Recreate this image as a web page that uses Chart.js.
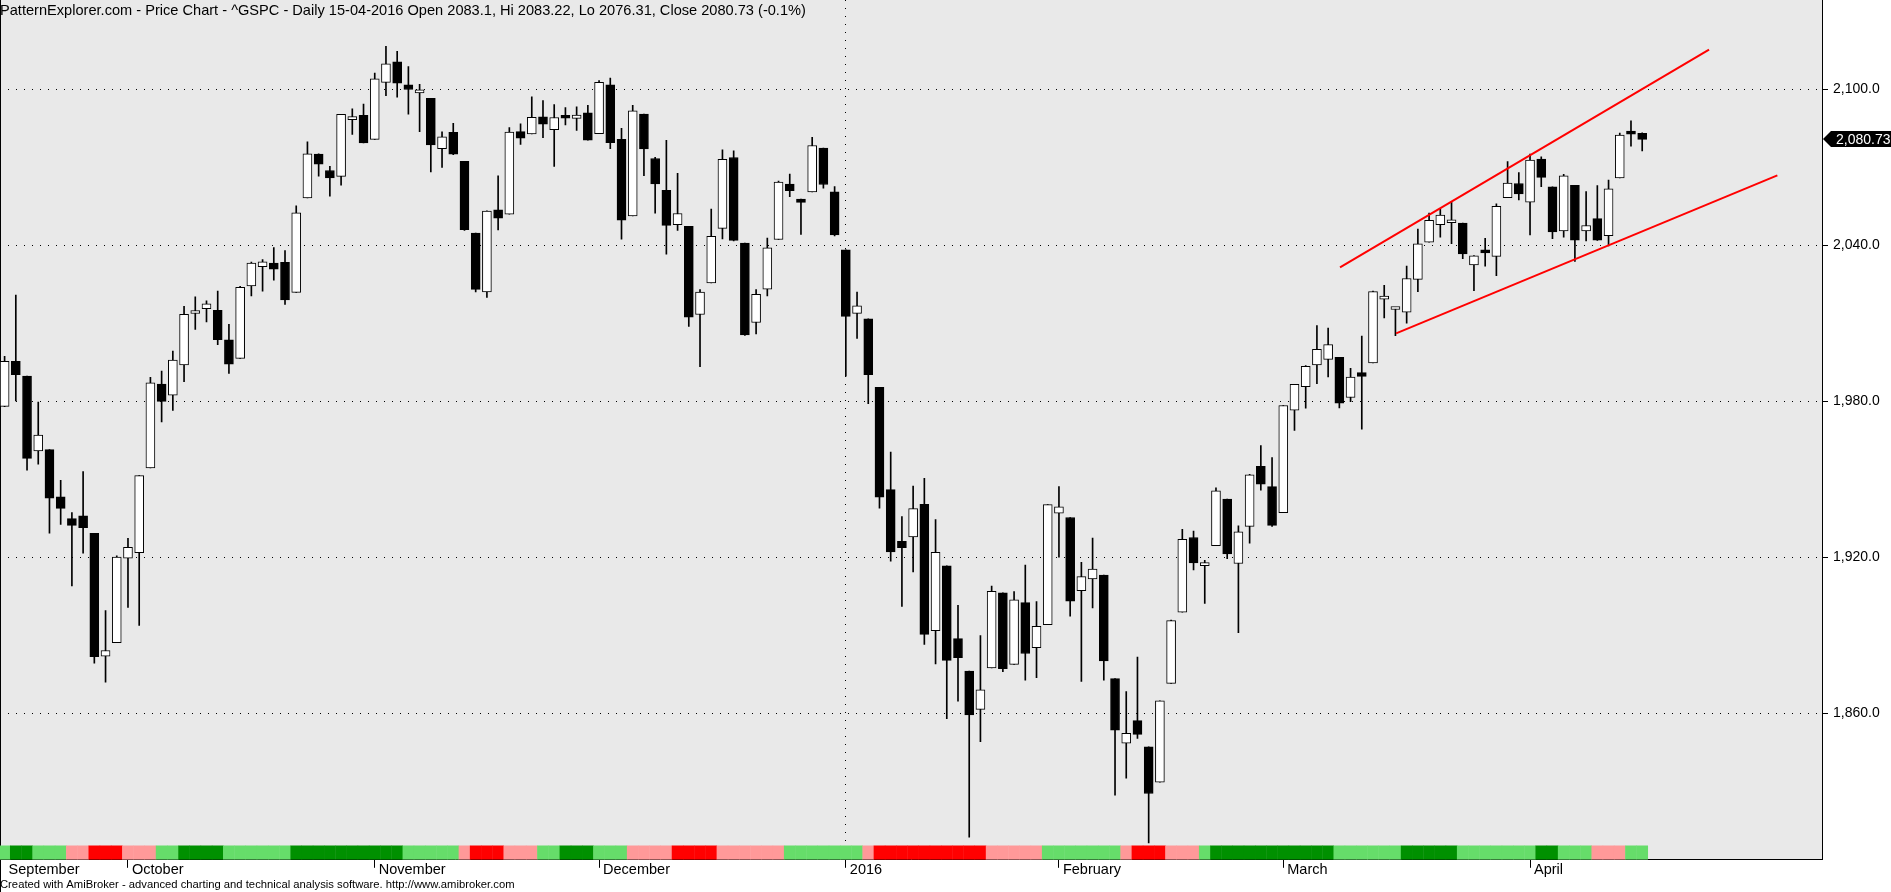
<!DOCTYPE html>
<html>
<head>
<meta charset="utf-8">
<title>^GSPC Daily Price Chart</title>
<script src="https://cdn.jsdelivr.net/npm/chart.js@4.4.0/dist/chart.umd.min.js"></script>
<style>
  html, body { margin: 0; padding: 0; background: #ffffff; }
  #wrap { width: 1891px; height: 892px; position: relative; }
</style>
</head>
<body>
<div id="wrap"><canvas id="priceChart"></canvas></div>
<script>
const dates = [
  '2015-09-16','2015-09-17','2015-09-18','2015-09-21','2015-09-22','2015-09-23','2015-09-24','2015-09-25','2015-09-28','2015-09-29','2015-09-30',
  '2015-10-01','2015-10-02','2015-10-05','2015-10-06','2015-10-07','2015-10-08','2015-10-09','2015-10-12','2015-10-13','2015-10-14','2015-10-15',
  '2015-10-16','2015-10-19','2015-10-20','2015-10-21','2015-10-22','2015-10-23','2015-10-26','2015-10-27','2015-10-28','2015-10-29','2015-10-30',
  '2015-11-02','2015-11-03','2015-11-04','2015-11-05','2015-11-06','2015-11-09','2015-11-10','2015-11-11','2015-11-12','2015-11-13',
  '2015-11-16','2015-11-17','2015-11-18','2015-11-19','2015-11-20','2015-11-23','2015-11-24','2015-11-25','2015-11-27','2015-11-30',
  '2015-12-01','2015-12-02','2015-12-03','2015-12-04','2015-12-07','2015-12-08','2015-12-09','2015-12-10','2015-12-11','2015-12-14','2015-12-15',
  '2015-12-16','2015-12-17','2015-12-18','2015-12-21','2015-12-22','2015-12-23','2015-12-24','2015-12-28','2015-12-29','2015-12-30','2015-12-31',
  '2016-01-04','2016-01-05','2016-01-06','2016-01-07','2016-01-08','2016-01-11','2016-01-12','2016-01-13','2016-01-14','2016-01-15',
  '2016-01-19','2016-01-20','2016-01-21','2016-01-22','2016-01-25','2016-01-26','2016-01-27','2016-01-28','2016-01-29',
  '2016-02-01','2016-02-02','2016-02-03','2016-02-04','2016-02-05','2016-02-08','2016-02-09','2016-02-10','2016-02-11','2016-02-12',
  '2016-02-16','2016-02-17','2016-02-18','2016-02-19','2016-02-22','2016-02-23','2016-02-24','2016-02-25','2016-02-26','2016-02-29',
  '2016-03-01','2016-03-02','2016-03-03','2016-03-04','2016-03-07','2016-03-08','2016-03-09','2016-03-10','2016-03-11','2016-03-14','2016-03-15',
  '2016-03-16','2016-03-17','2016-03-18','2016-03-21','2016-03-22','2016-03-23','2016-03-24','2016-03-28','2016-03-29','2016-03-30','2016-03-31',
  '2016-04-01','2016-04-04','2016-04-05','2016-04-06','2016-04-07','2016-04-08','2016-04-11','2016-04-12','2016-04-13','2016-04-14','2016-04-15'
];

const opens = [
  1978.02,1995.33,1989.66,1960.84,1961.39,1943.24,1934.81,1935.93,1929.18,1881.90,1887.14,
  1919.65,1921.77,1954.33,1986.63,1982.34,1994.01,2013.73,2015.65,2015.00,2003.66,1996.47,
  2024.37,2031.73,2033.13,2033.47,2021.88,2058.19,2075.08,2068.75,2066.48,2088.35,2090.00,
  2080.76,2102.63,2110.60,2101.68,2098.60,2096.56,2077.19,2083.41,2072.29,2044.64,
  2022.08,2053.67,2051.99,2083.70,2082.82,2089.41,2084.42,2089.30,2088.82,2090.95,
  2082.93,2101.71,2080.71,2051.24,2090.42,2073.39,2061.17,2047.93,2047.27,2013.37,2025.55,
  2046.50,2073.76,2040.81,2010.27,2023.15,2042.20,2063.52,2057.77,2060.54,2077.34,2060.59,
  2038.20,2013.78,2011.71,1985.32,1945.97,1926.12,1927.83,1940.34,1891.68,1916.68,
  1888.66,1876.18,1861.46,1877.40,1906.28,1878.79,1902.52,1885.22,1894.00,
  1936.94,1935.26,1907.07,1911.67,1913.07,1873.25,1848.46,1857.10,1847.00,1833.40,
  1871.44,1898.80,1927.57,1916.74,1924.44,1942.38,1917.56,1931.87,1954.95,1947.13,
  1937.09,1976.60,1985.60,1994.01,1996.11,1996.88,1981.44,1990.97,1994.71,2019.27,2015.27,
  2014.24,2026.90,2041.16,2047.88,2048.64,2048.55,2032.48,2037.89,2035.75,2058.27,2063.77,
  2056.62,2073.19,2062.50,2045.56,2063.01,2045.54,2050.23,2043.72,2065.92,2082.89,2083.10
];

const highs = [
  1997.26,2020.86,1989.66,1979.64,1961.39,1949.52,1937.17,1952.89,1929.18,1899.48,1920.53,
  1927.21,1951.36,1989.17,1991.62,1999.31,2016.50,2020.13,2018.66,2022.34,2009.56,2024.15,
  2033.54,2034.45,2039.12,2037.97,2055.20,2079.74,2075.14,2070.37,2090.35,2092.52,2094.32,
  2106.20,2116.48,2114.59,2108.78,2101.91,2096.56,2083.67,2086.94,2072.29,2044.64,
  2053.22,2066.69,2085.31,2086.74,2097.06,2095.61,2094.12,2093.00,2093.29,2093.81,
  2103.37,2104.27,2085.00,2093.84,2090.42,2073.85,2080.33,2067.65,2047.27,2022.92,2053.87,
  2076.72,2076.37,2040.81,2022.90,2042.74,2064.73,2067.36,2057.77,2081.56,2077.34,2062.54,
  2038.20,2021.94,2011.71,1985.32,1960.40,1935.65,1947.38,1950.33,1934.47,1916.68,
  1901.44,1876.18,1889.85,1908.85,1906.28,1906.73,1916.99,1902.96,1940.24,
  1947.20,1935.26,1918.01,1927.35,1913.07,1873.25,1868.25,1881.60,1847.00,1864.78,
  1895.77,1930.68,1930.00,1918.78,1946.70,1942.38,1932.08,1951.83,1962.96,1958.27,
  1978.35,1986.51,1993.69,2009.13,2008.16,1996.88,1992.69,2005.08,2022.37,2024.57,2015.94,
  2032.02,2046.24,2052.36,2053.91,2056.60,2048.55,2036.04,2042.67,2055.91,2072.21,2067.92,
  2075.07,2074.02,2062.50,2067.33,2063.01,2060.63,2062.93,2065.05,2083.18,2087.84,2083.22
];

const lows = [
  1977.93,1980.09,1953.45,1955.80,1929.22,1932.57,1908.92,1921.50,1879.21,1871.91,1887.14,
  1900.70,1893.70,1954.33,1971.99,1976.44,1987.53,2007.61,2010.55,2001.78,1990.73,1996.47,
  2020.46,2022.31,2026.61,2017.22,2021.88,2058.19,2066.53,2058.84,2063.11,2082.63,2079.34,
  2080.76,2097.51,2096.98,2090.41,2083.74,2068.24,2069.91,2074.85,2045.66,2022.02,
  2019.94,2045.90,2051.99,2078.76,2082.82,2081.39,2070.29,2086.30,2084.13,2080.41,
  2082.93,2077.11,2042.35,2051.24,2066.78,2052.32,2036.53,2045.67,2008.80,1993.26,2025.55,
  2042.43,2041.66,2005.33,2005.93,2020.49,2042.20,2058.73,2044.20,2060.54,2061.97,2043.62,
  1989.68,2004.17,1979.05,1938.83,1918.46,1901.10,1914.35,1886.41,1878.93,1857.83,
  1864.60,1812.29,1848.98,1877.40,1875.97,1878.79,1872.70,1873.65,1894.00,
  1920.03,1897.29,1872.23,1900.52,1872.65,1828.46,1834.94,1850.32,1810.10,1833.40,
  1871.44,1898.80,1915.09,1902.17,1924.44,1919.44,1891.00,1925.41,1945.78,1931.81,
  1937.09,1968.80,1977.37,1986.77,1989.38,1977.43,1979.84,1969.25,1994.71,2012.05,2005.23,
  2010.04,2022.16,2041.16,2043.14,2040.57,2034.86,2022.49,2031.96,2028.31,2058.27,2057.46,
  2043.98,2062.57,2042.56,2043.09,2033.80,2041.69,2041.88,2039.74,2065.92,2078.13,2076.31
];

const closes = [
  1995.31,1990.20,1958.03,1966.97,1942.74,1938.76,1932.24,1931.34,1881.77,1884.09,1920.03,
  1923.82,1951.36,1987.05,1979.92,1995.83,2013.43,2014.89,2017.46,2003.69,1994.24,2023.86,
  2033.11,2033.66,2030.77,2018.94,2052.51,2075.15,2071.18,2065.89,2090.35,2089.41,2079.36,
  2104.05,2109.79,2102.31,2099.93,2099.20,2078.58,2081.72,2075.00,2045.97,2023.04,
  2053.19,2050.44,2083.58,2081.24,2089.17,2086.59,2089.14,2088.87,2090.11,2080.41,
  2102.63,2079.51,2049.62,2091.69,2077.07,2063.59,2047.62,2052.23,2012.37,2021.94,2043.41,
  2073.07,2041.89,2005.55,2021.15,2038.97,2064.29,2060.99,2056.50,2078.36,2063.36,2043.94,
  2012.66,2016.71,1990.26,1943.09,1922.03,1923.67,1938.68,1890.28,1921.84,1880.33,
  1881.33,1859.33,1868.99,1906.90,1877.08,1903.63,1882.95,1893.36,1940.24,
  1939.38,1903.03,1912.53,1915.45,1880.05,1853.44,1852.21,1851.86,1829.08,1864.78,
  1895.58,1926.82,1917.83,1917.78,1945.50,1921.27,1929.80,1951.70,1948.05,1932.23,
  1978.35,1986.45,1993.40,1999.99,2001.76,1979.26,1989.26,1989.57,2022.19,2019.64,2015.93,
  2027.22,2040.59,2049.58,2051.60,2049.80,2036.71,2035.94,2037.05,2055.01,2063.95,2059.74,
  2072.78,2066.13,2045.17,2066.66,2041.91,2047.60,2041.99,2061.72,2082.42,2082.78,2080.73
];

// trend strip under the candles: D = strong up, L = up, P = down, R = strong down
const trendState = (
  'LDDLLLPPRRR' +
  'PPPLLDDDDLLLLLLDDDDDDD' +
  'DDDLLLLLPRRRPPPLLDDD' +
  'LLLPPPPRRRRPPPPPPLLLLL' +
  'LLPRRRRRRRRRRPPPPPL' +
  'LLLLLLPRRRPPPLDDDDDD' +
  'DDDDDLLLLLLDDDDDLLLLLL' +
  'LDDLLLPPPLL'
).split('');

const monthLabels = ['September', 'October', 'November', 'December', '2016', 'February', 'March', 'April'];
const priceTicks = [1860, 1920, 1980, 2040, 2100];

// hand drawn channel, x in bar index units
const upperChannelX = [119.06, 151.96];
const upperChannelY = [2031.45, 2115.3];
const lowerChannelX = [124.06, 158.05];
const lowerChannelY = [2006.1, 2066.9];

const titleText = 'PatternExplorer.com - Price Chart - ^GSPC - Daily 15-04-2016 Open 2083.1, Hi 2083.22, Lo 2076.31, Close 2080.73 (-0.1%)';
const footerText = 'Created with AmiBroker - advanced charting and technical analysis software. http://www.amibroker.com';

const fontFamily = '"Liberation Sans", Arial, sans-serif';
const stripPalette = { D: '#009000', L: '#66dd6a', P: '#ff9999', R: '#ff0000' };

const monthTicks = dates.map((d, i) => i).filter(i => i === 0 || dates[i].slice(0, 7) !== dates[i - 1].slice(0, 7));
const yearTick = monthTicks[monthLabels.indexOf('2016')];
const bodyColors = closes.map((c, i) => c >= opens[i] ? '#ffffff' : '#000000');
const lastClose = closes[closes.length - 1];

const chartBackground = {
  id: 'chartBackground',
  beforeDraw(chart) {
    const { ctx, chartArea } = chart;
    ctx.save();
    ctx.fillStyle = '#e9e9e9';
    ctx.fillRect(0, 0, chartArea.right, chartArea.bottom);
    ctx.fillStyle = '#000000';
    ctx.fillRect(0, 0, 1, chart.height);
    ctx.restore();
  }
};

// black price tag on the right axis showing the last close
const lastCloseTag = {
  id: 'lastCloseTag',
  afterDraw(chart) {
    const { ctx, chartArea } = chart;
    const y = Math.round(chart.scales.y.getPixelForValue(lastClose));
    const x = chartArea.right + 1;
    ctx.save();
    ctx.fillStyle = '#000000';
    ctx.beginPath();
    ctx.moveTo(x, y);
    ctx.lineTo(x + 8, y - 8);
    ctx.lineTo(chart.width, y - 8);
    ctx.lineTo(chart.width, y + 8);
    ctx.lineTo(x + 8, y + 8);
    ctx.closePath();
    ctx.fill();
    ctx.fillStyle = '#ffffff';
    ctx.font = '14px ' + fontFamily;
    ctx.textBaseline = 'middle';
    ctx.fillText(lastClose.toLocaleString('en-US', { minimumFractionDigits: 2 }), x + 13, y + 1);
    ctx.restore();
  }
};

const ctx = document.getElementById('priceChart').getContext('2d');
new Chart(ctx, {
  type: 'bar',
  data: {
    datasets: [
      {
        type: 'line',
        label: 'Upper channel',
        data: upperChannelX.map((x, i) => ({ x: x, y: upperChannelY[i] })),
        borderColor: '#ff0000',
        borderWidth: 2,
        pointRadius: 0,
        tension: 0,
        order: 0
      },
      {
        type: 'line',
        label: 'Lower channel',
        data: lowerChannelX.map((x, i) => ({ x: x, y: lowerChannelY[i] })),
        borderColor: '#ff0000',
        borderWidth: 2,
        pointRadius: 0,
        tension: 0,
        order: 0
      },
      {
        label: 'Body',
        data: dates.map((d, i) => ({ x: i, y: [opens[i], closes[i]] })),
        backgroundColor: bodyColors,
        borderColor: '#000000',
        borderWidth: 1,
        borderSkipped: false,
        barThickness: 9,
        minBarLength: 3,
        grouped: false,
        order: 1
      },
      {
        label: 'Wick',
        data: dates.map((d, i) => ({ x: i, y: [lows[i], highs[i]] })),
        backgroundColor: '#000000',
        barThickness: 1,
        grouped: false,
        order: 2
      },
      {
        label: 'Trend',
        data: dates.map((d, i) => ({ x: i, y: 1 })),
        yAxisID: 'yStrip',
        backgroundColor: trendState.map(s => stripPalette[s]),
        categoryPercentage: 1,
        barPercentage: 1.04,
        grouped: false,
        order: 3
      }
    ]
  },
  options: {
    responsive: true,
    maintainAspectRatio: false,
    animation: false,
    events: [],
    layout: { padding: 0 },
    plugins: {
      legend: { display: false },
      tooltip: { enabled: false },
      title: {
        display: true,
        text: titleText,
        align: 'start',
        color: '#000000',
        font: { family: fontFamily, size: 14.6, weight: 'normal' },
        padding: { top: 2, bottom: -19.52 }
      },
      subtitle: {
        display: true,
        position: 'bottom',
        text: footerText,
        align: 'start',
        color: '#000000',
        font: { family: fontFamily, size: 11.25, weight: 'normal' },
        padding: { top: 0, bottom: 0.7 }
      }
    },
    scales: {
      x: {
        type: 'linear',
        min: -0.41,
        max: 162.03,
        offset: false,
        afterBuildTicks: axis => { axis.ticks = monthTicks.map(v => ({ value: v })); },
        afterFit: axis => { axis.height = 18; axis.paddingLeft = 0; axis.paddingRight = 0; },
        ticks: {
          autoSkip: false,
          maxRotation: 0,
          align: 'start',
          labelOffset: 4,
          padding: -7,
          color: '#000000',
          font: { family: fontFamily, size: 14.5 },
          callback: (value, index) => monthLabels[index]
        },
        grid: {
          offset: false,
          drawOnChartArea: true,
          color: c => (c.tick && c.tick.value === yearTick) ? '#000000' : 'rgba(0,0,0,0)',
          tickColor: c => c.index === 0 ? 'rgba(0,0,0,0)' : '#000000',
          tickLength: 8,
          lineWidth: 1
        },
        border: { display: true, color: '#000000', width: 1, dash: [1, 7] }
      },
      y: {
        position: 'right',
        min: 1803.58,
        max: 2134.35,
        beginAtZero: false,
        afterBuildTicks: axis => { axis.ticks = priceTicks.map(v => ({ value: v })); },
        afterFit: axis => { axis.width = 69; axis.paddingTop = 0; axis.paddingBottom = 0; },
        ticks: {
          padding: 5,
          color: '#000000',
          font: { family: fontFamily, size: 14 },
          callback: v => v.toLocaleString('en-US', { minimumFractionDigits: 1, maximumFractionDigits: 1 })
        },
        grid: { color: '#000000', lineWidth: 1, tickLength: 6, tickColor: '#000000' },
        border: { display: true, color: '#000000', width: 1, dash: [1, 7] }
      },
      yStrip: {
        display: false,
        min: 0,
        max: 60
      }
    }
  },
  plugins: [chartBackground, lastCloseTag]
});
</script>
</body>
</html>
